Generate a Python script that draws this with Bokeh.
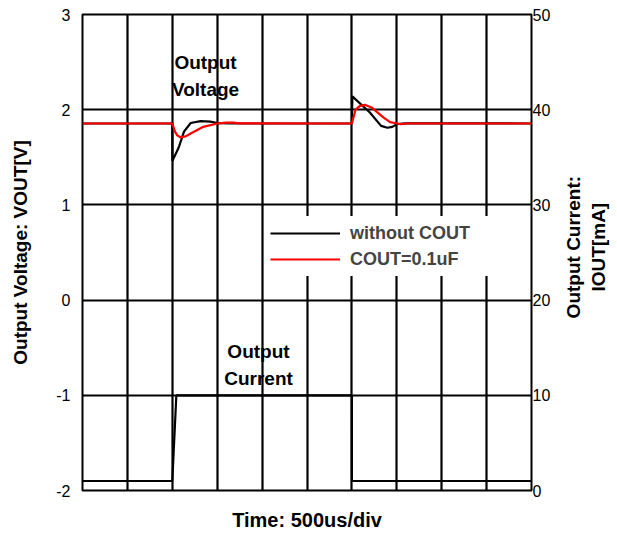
import math
from bokeh.plotting import figure
from bokeh.layouts import row
from bokeh.models import (Range1d, LinearAxis, FixedTicker, Legend, LegendItem, Label)
from bokeh.core.properties import value
from bokeh.embed import file_html
from bokeh.resources import INLINE

# ---- data (time in us, 500 us/div) ----
t_black = [0, 1000, 1000.5, 1070, 1130, 1205, 1315, 1425, 1500, 1650,
           3000, 3005, 3200, 3325, 3395, 3450, 3505, 3600, 5000]
v_black = [1.855, 1.855, 1.46, 1.60, 1.77, 1.86, 1.88, 1.875, 1.86, 1.855,
           1.855, 2.14, 1.97, 1.83, 1.81, 1.82, 1.85, 1.857, 1.855]

t_red = [0, 1000, 1030, 1055, 1090, 1150, 1205, 1345, 1500, 1600, 1680, 1750,
         3000, 3040, 3090, 3150, 3225, 3350, 3425, 3505, 3540, 3625, 5000]
v_red = [1.855, 1.855, 1.77, 1.73, 1.71, 1.72, 1.75, 1.82, 1.855, 1.865, 1.865, 1.857,
         1.855, 2.00, 2.04, 2.05, 2.02, 1.92, 1.87, 1.855, 1.848, 1.855, 1.855]

t_cur = [0, 1000, 1045, 3000, 3000.5, 5000]
i_cur = [1.0, 1.0, 10.0, 10.0, 1.0, 1.0]

v_ticks = [-2, -1, 0, 1, 2, 3]
v_tick_labels = ["-2", "-1", "0", "1", "2", "3"]
i_ticks = [0, 10, 20, 30, 40, 50]
t_grid = [0, 500, 1000, 1500, 2000, 2500, 3000, 3500, 4000, 4500, 5000]

legend_labels = ["without COUT", "COUT=0.1uF"]
series_colors = ["black", "#ff0000"]
right_title = ["Output Current:", "IOUT[mA]"]

FONT = "Liberation Sans"
BOLD_SIZE = "19px"
H = 534

p = figure(frame_width=449, frame_height=476, output_backend="svg",
           toolbar_location=None, x_range=Range1d(0, 5000), y_range=Range1d(-2, 3),
           min_border_left=82, min_border_right=22, min_border_top=14,
           min_border_bottom=44)
p.extra_y_ranges = {"cur": Range1d(0, 50)}

p.outline_line_color = "black"
p.outline_line_width = 2
p.outline_line_alpha = 1

# grids
p.xgrid.ticker = FixedTicker(ticks=t_grid)
p.ygrid.ticker = FixedTicker(ticks=v_ticks)
for g in (p.xgrid, p.ygrid):
    g.grid_line_color = "black"
    g.grid_line_width = 2.2
    g.grid_line_alpha = 1


def style_axis(ax):
    ax.axis_line_color = None
    ax.major_tick_line_color = None
    ax.minor_tick_line_color = None
    ax.major_tick_out = 0
    ax.major_tick_in = 0
    ax.minor_tick_out = 0
    ax.minor_tick_in = 0
    ax.major_label_text_font = FONT
    ax.major_label_text_font_size = "16px"
    ax.major_label_text_color = "black"
    ax.axis_label_text_font = FONT
    ax.axis_label_text_font_style = "bold"
    ax.axis_label_text_font_size = BOLD_SIZE
    ax.axis_label_text_color = "black"


# left axis
la = p.yaxis[0]
style_axis(la)
la.ticker = FixedTicker(ticks=v_ticks)
la.major_label_overrides = dict(zip(v_ticks, v_tick_labels))
la.major_label_standoff = 12
la.axis_label = "Output Voltage: VOUT[V]"
la.axis_label_standoff = 22

# bottom axis
ba = p.xaxis[0]
style_axis(ba)
ba.ticker = FixedTicker(ticks=t_grid)
ba.major_label_overrides = {t: "" for t in t_grid}
ba.major_label_text_font_size = "1px"
ba.axis_label = "Time: 500us/div"
ba.axis_label_text_font_size = "20px"
ba.axis_label_standoff = 18

# right axis (ticks only; title drawn in the side panel)
ra = LinearAxis(y_range_name="cur", ticker=FixedTicker(ticks=i_ticks))
style_axis(ra)
ra.major_label_standoff = 1
p.add_layout(ra, "right")

# data lines
r_black = p.line(t_black, v_black, line_color=series_colors[0], line_width=2.2)
r_red = p.line(t_red, v_red, line_color=series_colors[1], line_width=2.2)
p.line(t_cur, i_cur, line_color="black", line_width=2.2, y_range_name="cur")

leg = Legend(items=[LegendItem(label=legend_labels[0], renderers=[r_black]),
                    LegendItem(label=legend_labels[1], renderers=[r_red])],
             location=(183, 214))
leg.margin = 0
leg.padding = 5
leg.spacing = 2
leg.glyph_width = 70
leg.glyph_height = 24
leg.label_height = 24
leg.label_width = 135
leg.label_standoff = 10
leg.label_text_font = FONT
leg.label_text_font_style = "bold"
leg.label_text_font_size = "18px"
leg.border_line_alpha = 0
leg.background_fill_color = "white"
leg.background_fill_alpha = 1
p.add_layout(leg, "center")

for txt, x, y in [("Output\nVoltage", 1370, 2.355), ("Output\nCurrent", 1960, -0.68)]:
    p.add_layout(Label(x=x, y=y, text=txt, text_align="center", text_baseline="middle",
                       text_font=FONT, text_font_style="bold", text_font_size=BOLD_SIZE,
                       text_color="black", text_line_height=1.3))

# side panel holding the right-hand axis title (reads bottom-to-top)
SW = 64
side = figure(width=SW, height=H, output_backend="svg", toolbar_location=None,
              x_range=Range1d(0, SW), y_range=Range1d(0, H),
              x_axis_type=None, y_axis_type=None, min_border=0)
side.outline_line_color = None
side.grid.visible = False
side.text(x=[20, 45], y=[H - 261, H - 261], text=right_title, angle=math.pi / 2,
          text_align="center", text_baseline="middle", text_font=value(FONT),
          text_font_style="bold", text_font_size=BOLD_SIZE, text_color="black")

layout = row(p, side, spacing=0)
open("out.html", "w").write(file_html(layout, INLINE))
